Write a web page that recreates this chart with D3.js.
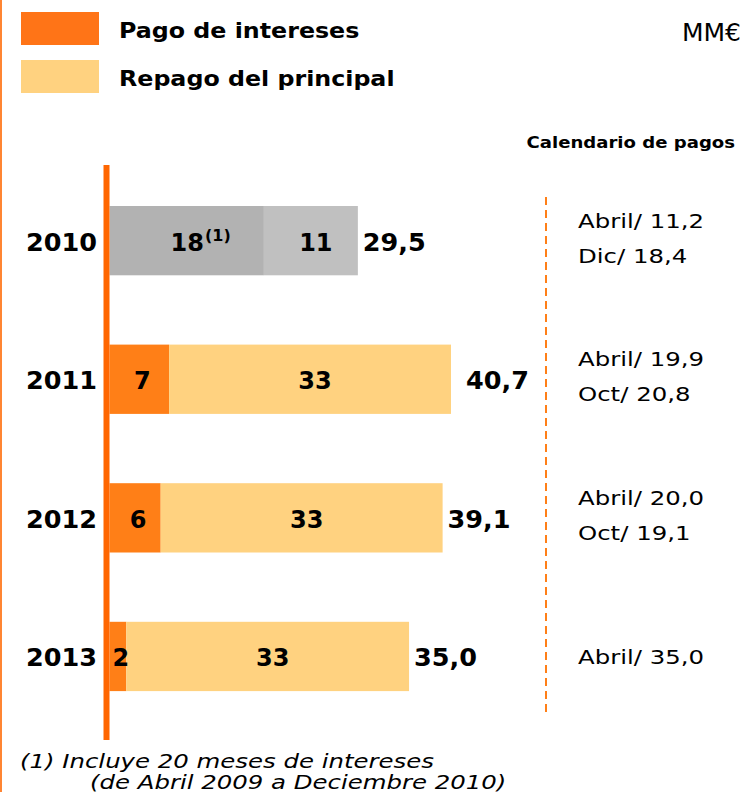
<!DOCTYPE html>
<meta charset="utf-8">
<script src="https://d3js.org/d3.v7.min.js"></script>
<style>
  body { margin: 0; background: #fff; }
  text { font-family: "DejaVu Sans", Verdana, sans-serif; fill: #000; }
</style>
<div id="chart"></div>
<script>

// data (MM€)
var years = ["2010", "2011", "2012", "2013"];
var interest = [18.4, 7.1, 6.1, 2.0];
var principal = [11.2, 33.6, 33.6, 33.7];
var interestLabels = ["18", "7", "6", "2"];
var principalLabels = ["11", "33", "33", "33"];
var totalLabels = ["29,5", "40,7", "39,1", "35,0"];
var schedule = [
  ["Abril/ 11,2", "Dic/ 18,4"],
  ["Abril/ 19,9", "Oct/ 20,8"],
  ["Abril/ 20,0", "Oct/ 19,1"],
  ["Abril/ 35,0"]
];

var width = 744, height = 792;

var svg = d3.select("#chart")
  .append("svg")
    .attr("width", width)
    .attr("height", height);

// text stretched horizontally like the original slide
function label(x, y, sx) {
  return svg.append("text")
    .attr("transform", "translate(" + x + "," + y + ") scale(" + sx + ",1)");
}

// thin orange border on the left
svg.append("rect")
  .attr("x", 0).attr("y", 0)
  .attr("width", 2).attr("height", height)
  .attr("fill", "#ff8533");

// legend
var legend = [
  {label: "Pago de intereses", color: "#ff7417"},
  {label: "Repago del principal", color: "#ffd280"}
];
legend.forEach(function(d, i) {
  svg.append("rect")
    .attr("x", 21).attr("y", 12 + i * 48)
    .attr("width", 78).attr("height", 33)
    .attr("fill", d.color);
  label(119, 38 + i * 48, 1.08)
    .attr("font-size", 22).attr("font-weight", "bold")
    .text(d.label);
});

svg.append("text")
  .attr("x", 741).attr("y", 41)
  .attr("text-anchor", "end")
  .attr("font-size", 25)
  .text("MM€");

label(735, 148, 1.13)
  .attr("text-anchor", "end")
  .attr("font-size", 16).attr("font-weight", "bold")
  .text("Calendario de pagos");

// scales
var x = d3.scaleLinear()
  .domain([0, 40.7])
  .range([109.5, 451]);

var y = d3.scaleBand()
  .domain(years)
  .range([136.7, 760.4])
  .paddingInner(0.5)
  .paddingOuter(0.5);

var rows = years.map(function(yr, i) {
  return {year: yr, i: i, a: interest[i], b: principal[i]};
});

var segA = ["#b2b2b2", "#ff7f17", "#ff7f17", "#ff7f17"];
var segB = ["#c0c0c0", "#ffd280", "#ffd280", "#ffd280"];

// interest segment
svg.selectAll(".segA")
  .data(rows)
  .enter().append("rect")
    .attr("x", x(0))
    .attr("y", function(d) { return y(d.year) })
    .attr("width", function(d) { return x(d.a) - x(0) })
    .attr("height", y.bandwidth())
    .attr("fill", function(d) { return segA[d.i] });

// principal segment
svg.selectAll(".segB")
  .data(rows)
  .enter().append("rect")
    .attr("x", function(d) { return x(d.a) })
    .attr("y", function(d) { return y(d.year) })
    .attr("width", function(d) { return x(d.a + d.b) - x(d.a) })
    .attr("height", y.bandwidth())
    .attr("fill", function(d) { return segB[d.i] });

// vertical axis line
svg.append("rect")
  .attr("x", 103.5).attr("y", 165)
  .attr("width", 6).attr("height", 575)
  .attr("fill", "#ff6600");

var mid = function(d) { return y(d.year) + y.bandwidth() / 2 };

// year labels
svg.selectAll(".year")
  .data(rows)
  .enter().append("text")
    .attr("x", 97)
    .attr("y", function(d) { return mid(d) + 10 })
    .attr("text-anchor", "end")
    .attr("font-size", 25.5).attr("font-weight", "bold")
    .text(function(d) { return d.year });

// segment labels
var la = svg.selectAll(".la")
  .data(rows)
  .enter().append("text")
    .attr("x", function(d) { return (x(0) + x(d.a)) / 2 + (d.i == 0 ? 14 : 3) })
    .attr("y", function(d) { return mid(d) + 10 })
    .attr("text-anchor", "middle")
    .attr("font-size", 24).attr("font-weight", "bold");
la.append("tspan").text(function(d) { return interestLabels[d.i] });
la.filter(function(d) { return d.i == 0 })
  .append("tspan")
    .attr("font-size", 16)
    .attr("dx", 1)
    .attr("dy", -10)
    .text("(1)");

svg.selectAll(".lb")
  .data(rows)
  .enter().append("text")
    .attr("x", function(d) { return (x(d.a) + x(d.a + d.b)) / 2 + 5 })
    .attr("y", function(d) { return mid(d) + 10 })
    .attr("text-anchor", "middle")
    .attr("font-size", 24).attr("font-weight", "bold")
    .text(function(d) { return principalLabels[d.i] });

// totals
svg.selectAll(".total")
  .data(rows)
  .enter().append("text")
    .attr("x", function(d) { return x(d.a + d.b) + (d.i == 1 ? 15 : 5) })
    .attr("y", function(d) { return mid(d) + 10 })
    .attr("font-size", 25.5).attr("font-weight", "bold")
    .text(function(d) { return totalLabels[d.i] });

// dashed divider
svg.append("line")
  .attr("x1", 546).attr("x2", 546)
  .attr("y1", 197).attr("y2", 716)
  .attr("stroke", "#ff7f17")
  .attr("stroke-width", 2)
  .attr("stroke-dasharray", "8,5");

// payment calendar
rows.forEach(function(d) {
  var lines = schedule[d.i];
  lines.forEach(function(t, j) {
    var off = lines.length == 1 ? 8 : (j == 0 ? -13 : 22);
    label(578, mid(d) + off, 1.22)
      .attr("font-size", 20)
      .text(t);
  });
});

// footnote
label(20, 768, 1.22)
  .attr("font-size", 20).attr("font-style", "italic")
  .text("(1) Incluye 20 meses de intereses");
label(90, 789, 1.22)
  .attr("font-size", 20).attr("font-style", "italic")
  .text("(de Abril 2009 a Deciembre 2010)");

</script>
